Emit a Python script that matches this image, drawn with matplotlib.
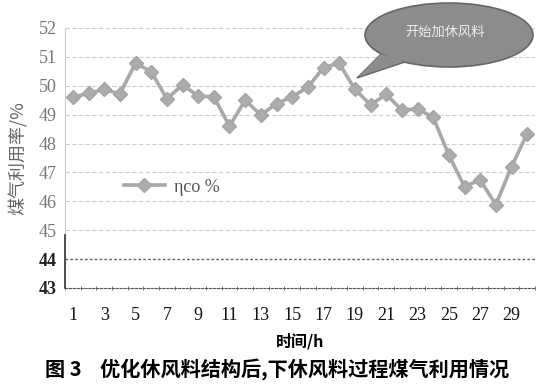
import numpy as np
import matplotlib.pyplot as plt
from matplotlib.patches import Ellipse, Polygon

plt.rcParams['font.family'] = ['Liberation Serif', 'Noto Sans CJK SC', 'DejaVu Sans']

# data
hours = list(range(1, 31))
eta_co = [49.60, 49.74, 49.88, 49.72, 50.78, 50.49, 49.55, 50.03, 49.65, 49.62,
          48.60, 49.50, 48.99, 49.38, 49.62, 49.95, 50.63, 50.78, 49.88, 49.34,
          49.70, 49.16, 49.20, 48.91, 47.60, 46.51, 46.74, 45.88, 47.20, 48.34]
yticks = list(range(43, 53))
xticks = list(range(1, 31, 2))

W, H = 555, 389
fig = plt.figure(figsize=(W / 100, H / 100), dpi=100)
ax = fig.add_axes([65 / W, 1 - 288 / H, 470 / W, 260 / H])

ax.plot(hours, eta_co, color='#a8a8a8', lw=2.6, marker='D', ms=7,
        mfc='#acacac', mec='#a4a4a4', label='ηco %', zorder=3)

ax.set_xlim(0.5, 30.5)
ax.set_ylim(43, 52)
ax.set_yticks(yticks)
ax.set_xticks(xticks)
ax.set_xticks(np.arange(0.5, 31, 1), minor=True)
ax.tick_params(axis='y', length=0, pad=6)
ax.tick_params(axis='x', which='major', length=0, pad=14)
ax.tick_params(axis='x', which='minor', length=3, direction='inout', color='#666')
for lab in ax.get_yticklabels():
    lab.set_fontsize(13)
    if float(lab.get_text()) < 45:
        lab.set_color('#222')
        lab.set_fontweight('bold')
    else:
        lab.set_color('#777')
for lab in ax.get_xticklabels():
    lab.set_fontsize(13)
    lab.set_color('#111')

for v in yticks[1:]:
    if v == 44:
        ax.axhline(v, color='#666', lw=1, ls=(0, (2, 1.5)), zorder=1)
    else:
        ax.axhline(v, color='#cfcfcf', lw=0.8, ls=(0, (4, 2)), zorder=1)

for s in ['top', 'right']:
    ax.spines[s].set_visible(False)
ax.spines['left'].set_color('#cccccc')
ax.spines['bottom'].set_color('#555')
ax.spines['bottom'].set_linestyle((0, (2, 1.5)))
ax.plot([0.5, 0.5], [43, 44.85], color='#333', lw=1.2, clip_on=False, zorder=4)

ax.legend(loc='center left', bbox_to_anchor=(0.09, 0.388), frameon=False,
          handlelength=2.3, handletextpad=0.5, fontsize=13, labelcolor='#555')

ax.set_xlabel('时间/h', family=['Noto Sans CJK SC'], fontsize=11.5, fontweight='bold',
              labelpad=6)
ax.set_ylabel('煤气利用率/%', family=['Noto Sans CJK SC', 'DejaVu Sans'],
              fontsize=13, color='#666', labelpad=8)

# callout bubble (figure pixel coordinates)
ov = fig.add_axes([0, 0, 1, 1], zorder=5)
ov.set_xlim(0, W)
ov.set_ylim(H, 0)
ov.axis('off')
ov.add_patch(Polygon([[380, 55], [357, 78], [405, 62]], closed=True,
                     fc='#8c8c8c', ec='#666', lw=1))
ov.add_patch(Ellipse((449, 35), 168, 64, fc='#8c8c8c', ec='#666', lw=1.2))
ov.add_patch(Polygon([[381, 54], [359, 76], [404, 61]], closed=True,
                     fc='#8c8c8c', ec='none'))
ov.text(445, 32, '开始加休风料', family=['Noto Sans CJK SC'], fontsize=9.5,
        color='#eeeeee', ha='center', va='center')

fig.text(277 / W, 1 - 370 / H, '图 3    优化休风料结构后,下休风料过程煤气利用情况',
         fontsize=14.5, fontweight='bold', ha='center', va='center',
         family=['Noto Sans CJK SC'])

fig.savefig('out.png', dpi=100)
